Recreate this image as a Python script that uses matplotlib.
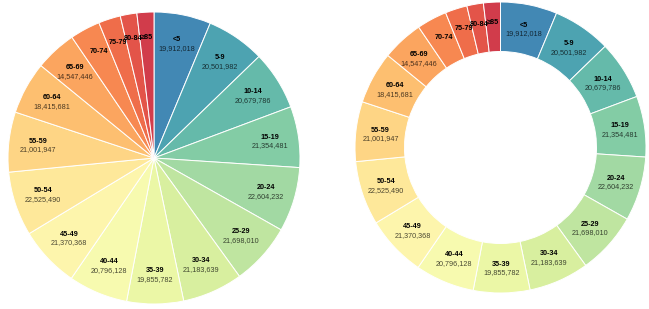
import numpy as np
import matplotlib
matplotlib.use("Agg")
import matplotlib.pyplot as plt

names = ["<5", "5-9", "10-14", "15-19", "20-24", "25-29", "30-34", "35-39", "40-44",
         "45-49", "50-54", "55-59", "60-64", "65-69", "70-74", "75-79", "80-84", "≥85"]
values = [19912018, 20501982, 20679786, 21354481, 22604232, 21698010, 21183639, 19855782,
          20796128, 21370368, 22525490, 21001947, 18415681, 14547446, 10587721, 7730129,
          5811429, 5938752]

W, H = 649, 309
fig = plt.figure(figsize=(W / 100, H / 100), dpi=100)
ax = fig.add_axes([0, 0, 1, 1])

# d3.interpolateSpectral (basis spline over the 11-colour Spectral scheme)
scheme = "9e0142d53e4ff46d43fdae61fee08bffffbfe6f598abdda466c2a53288bd5e4fa2"
pal = np.array([[int(scheme[i + j:i + j + 2], 16) for j in (0, 2, 4)]
                for i in range(0, len(scheme), 6)], dtype=float)


def basis(t1, v0, v1, v2, v3):
    t2 = t1 * t1
    t3 = t2 * t1
    return ((1 - 3 * t1 + 3 * t2 - t3) * v0 + (4 - 6 * t2 + 3 * t3) * v1
            + (1 + 3 * t1 + 3 * t2 - 3 * t3) * v2 + t3 * v3) / 6


def spectral(t):
    m = len(pal) - 1
    if t <= 0:
        t, i = 0.0, 0
    elif t >= 1:
        t, i = 1.0, m - 1
    else:
        i = int(np.floor(t * m))
    v1, v2 = pal[i], pal[i + 1]
    v0 = pal[i - 1] if i > 0 else 2 * v1 - v2
    v3 = pal[i + 2] if i < m - 1 else 2 * v2 - v1
    c = basis((t - i / m) * m, v0, v1, v2, v3)
    return tuple(np.clip(np.round(c), 0, 255) / 255)


n = len(values)
colors = [spectral(t * 0.8 + 0.1) for t in np.linspace(0, 1, n)][::-1]

total = float(sum(values))
fracs = np.array(values) / total
cum = np.concatenate([[0], np.cumsum(fracs)])
mid = (cum[:-1] + cum[1:]) / 2
spans = fracs * 2 * np.pi

font = "Liberation Sans"
fs = 5.2


def draw(center, radius, inner, label_r):
    wp = dict(edgecolor="white", linewidth=0.7)
    if inner > 0:
        wp["width"] = radius - inner
    ax.pie(values, colors=colors, center=center, radius=radius, startangle=90,
           counterclock=False, wedgeprops=wp)
    for nm, val, m, sp in zip(names, values, mid, spans):
        th = np.pi / 2 - m * 2 * np.pi
        x = center[0] + label_r * np.cos(th)
        y = center[1] + label_r * np.sin(th)
        ax.text(x, y + 2.5, nm, ha="center", va="baseline", fontsize=fs,
                fontweight="bold", family=font, color="black")
        if sp > 0.25:
            ax.text(x, y - 6.2, f"{val:,}", ha="center", va="baseline", fontsize=fs,
                    family=font, color="black", alpha=0.7)


# left: full pie
draw((154, H - 158), 146, 0, 146 * 0.8)
# right: donut
draw((500.5, H - 147.5), 145.5, 96, (145.5 + 96) / 2)

ax.set_xlim(0, W)
ax.set_ylim(0, H)
ax.set_aspect("equal")
ax.set_axis_off()

fig.savefig("out.png", dpi=100)
